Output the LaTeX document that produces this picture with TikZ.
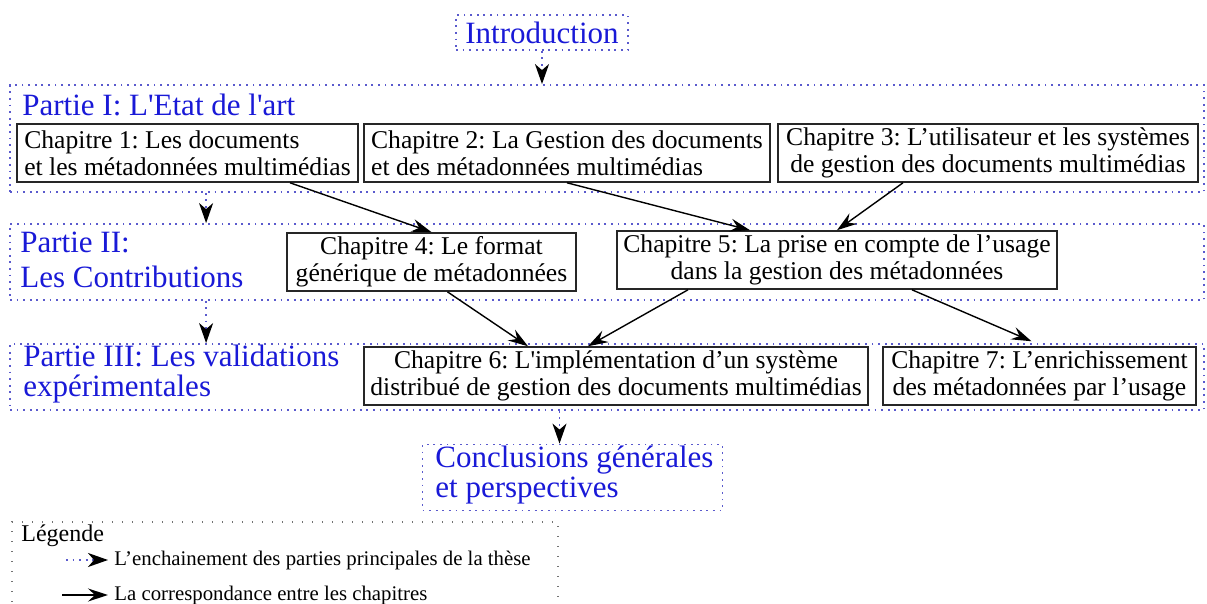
\documentclass[tikz,border=0pt]{standalone}
\usepackage{fontspec}
\setmainfont{Liberation Serif}
\usepackage{tikz}
\usetikzlibrary{arrows.meta}
\usetikzlibrary{calc}
\usetikzlibrary{positioning}
\definecolor{partblue}{RGB}{25,25,215}
\definecolor{dotblue}{RGB}{90,90,205}
\frenchspacing
\tikzset{chapbox/.style={draw=black!85,line width=0.8pt,inner sep=2pt,font=\fontsize{12.8}{13.3}\selectfont},
partframe/.style={draw=dotblue,line width=0.9pt,dash pattern=on 0.9pt off 2.4pt,inner sep=0pt},
parttitle/.style={text=partblue,font=\fontsize{15.5}{15}\selectfont,align=left,inner sep=0pt},
partarrow/.style={draw=dotblue,line width=0.9pt,dash pattern=on 0.9pt off 2.4pt,-{Stealth[length=10pt,width=7pt,inset=3pt,color=black]}},
chaparrow/.style={draw=black,line width=0.7pt,-{Stealth[length=10pt,width=6.5pt,inset=3.5pt]}},
legendframe/.style={draw=black!55,line width=0.6pt,dash pattern=on 0.6pt off 4.4pt,inner sep=0pt},
legendtext/.style={font=\fontsize{10.4}{12}\selectfont,inner sep=0pt}}

\begin{document}
\begin{tikzpicture}[x=0.5pt,y=-0.5pt]
\useasboundingbox (0,0) rectangle (1207,604);
% les parties
\node[partframe,minimum width=86pt,minimum height=17.5pt] (intro) at (542,32.5) {};
\node[parttitle] at (intro) {Introduction};
\node[partframe,minimum width=597pt,minimum height=53.5pt] (p1) at (607,138.5) {};
\node[parttitle,anchor=base west] (p1t) at (22,116) {Partie I: L\textquotesingle{}Etat de l\textquotesingle{}art};
\node[partframe,minimum width=597pt,minimum height=38pt] (p2) at (607,262) {};
\node[parttitle,anchor=base west] (p2t) at (20,288) {Partie II:\\[2.5pt]Les Contributions};
\node[partframe,minimum width=597pt,minimum height=33pt] (p3) at (607,377) {};
\node[parttitle,anchor=base west] (p3t) at (23,397) {Partie III: Les validations\\expérimentales};
\node[partframe,minimum width=150pt,minimum height=33pt] (concl) at (572.5,477.5) {};
\node[parttitle,anchor=base west] (conclt) at (435,498) {Conclusions générales\\et perspectives};
% les chapitres
\node[chapbox,align=left,minimum width=170.5pt,minimum height=29pt] (ch1) at (187.5,153) {Chapitre 1: Les documents\\et les métadonnées multimédias};
\node[chapbox,align=left,minimum width=203pt,minimum height=29pt] (ch2) at (567,153) {Chapitre 2: La Gestion des documents\\et des métadonnées multimédias};
\node[chapbox,align=center,minimum width=210pt,minimum height=29pt] (ch3) at (988,153) {Chapitre 3: L’utilisateur et les systèmes\\de gestion des documents multimédias};
\node[chapbox,align=center,minimum width=144.5pt,minimum height=29pt] (ch4) at (431.5,262) {Chapitre 4: Le format\\générique de métadonnées};
\node[chapbox,align=center,minimum width=220pt,minimum height=29pt] (ch5) at (837,260) {Chapitre 5: La prise en compte de l’usage\\dans la gestion des métadonnées};
\node[chapbox,align=center,minimum width=252pt,minimum height=26pt] (ch6) at (616,376) {Chapitre 6: L\textquotesingle{}implémentation d’un système\\distribué de gestion des documents multimédias};
\node[chapbox,align=center,minimum width=156.5pt,minimum height=26pt] (ch7) at (1039.5,376) {Chapitre 7: L’enrichissement\\des métadonnées par l’usage};
% enchainement des parties
\coordinate (lk) at ($(p1.south west)+(197,0)$);
\coordinate (cc) at ($(concl.north)+(-13,0)$);
\draw[partarrow] (intro.south) -- (intro.south |- p1.north);
\draw[partarrow] (lk) -- (lk |- p2.north);
\draw[partarrow] (lk |- p2.south) -- (lk |- p3.north);
\draw[partarrow] (cc |- p3.south) -- (cc);
% correspondance des chapitres
\draw[chaparrow] ($(ch1.south)+(102.5,0)$) -- (ch4.north);
\draw[chaparrow] (ch2.south) -- ($(ch5.north)+(-87,0)$);
\draw[chaparrow] ($(ch3.south)+(-85,0)$) -- (ch5.north);
\draw[chaparrow] ($(ch4.south)+(16,0)$) -- ($(ch6.north)+(-88,0)$);
\draw[chaparrow] ($(ch5.south)+(-149,0)$) -- ($(ch6.north)+(-28,0)$);
\draw[chaparrow] ($(ch5.south)+(75,0)$) -- ($(ch7.north)+(-8,-5)$);
% legende
\draw[legendframe] (12,612) |- (558,522) -- (558,612);
\node[font=\fontsize{12}{12}\selectfont,inner sep=0pt,anchor=base west] (leg) at (21,542) {Légende};
\node[legendtext,anchor=west] (leg1) at (114,560) {L’enchainement des parties principales de la thèse};
\node[legendtext,anchor=west] (leg2) at (114,595) {La correspondance entre les chapitres};
\coordinate (la) at (66,560);
\coordinate (lb) at (62,595);
\draw[partarrow] (la) -- ([xshift=-3pt]leg1.west);
\draw[chaparrow] (lb) -- ([xshift=-3pt]leg2.west);
\end{tikzpicture}
\end{document}
